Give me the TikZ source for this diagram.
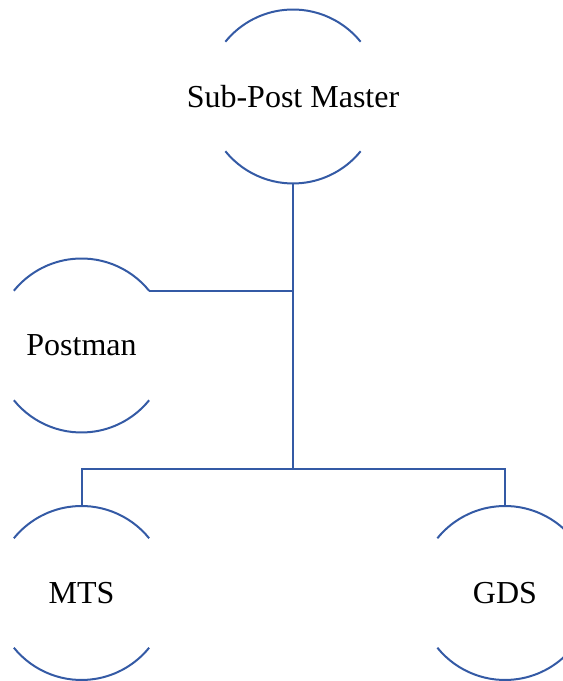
\documentclass[tikz,border=0pt]{standalone}
\usepackage{fontspec}
\setmainfont{Liberation Serif}
\definecolor{lineblue}{RGB}{52,90,165}
\begin{document}
\begin{tikzpicture}[x=1bp,y=1bp,
  role/.style={circle,minimum size=174bp,inner sep=0pt,outer sep=0pt,
    font=\fontsize{32bp}{38bp}\selectfont,text=black},
  link/.style={draw=lineblue,line width=2bp}]
\clip (0,0) rectangle (563,681);
\useasboundingbox (0,0) rectangle (563,681);
\node[role] (top) at (293,584.5) {\makebox[0pt]{Sub-Post Master}};
\node[role] (post) at (81.5,335.5) {\makebox[0pt]{Postman}};
\node[role] (mts) at (81.5,88) {\makebox[0pt]{MTS}};
\node[role] (gds) at (505,88) {\makebox[0pt]{GDS}};
\foreach \n in {top,post,mts,gds}{
  \draw[link] (\n.39) arc[start angle=39,end angle=141,radius=87bp];
  \draw[link] (\n.-141) arc[start angle=-141,end angle=-39,radius=87bp];
}
\coordinate (bus) at (293,212);
\draw[link] (top.south) -- (bus);
\draw[link] (post.39) -- (top.south |- post.39);
\draw[link] (mts.north) -- (mts.north |- bus) -- (gds.north |- bus) -- (gds.north);
\end{tikzpicture}
\end{document}
